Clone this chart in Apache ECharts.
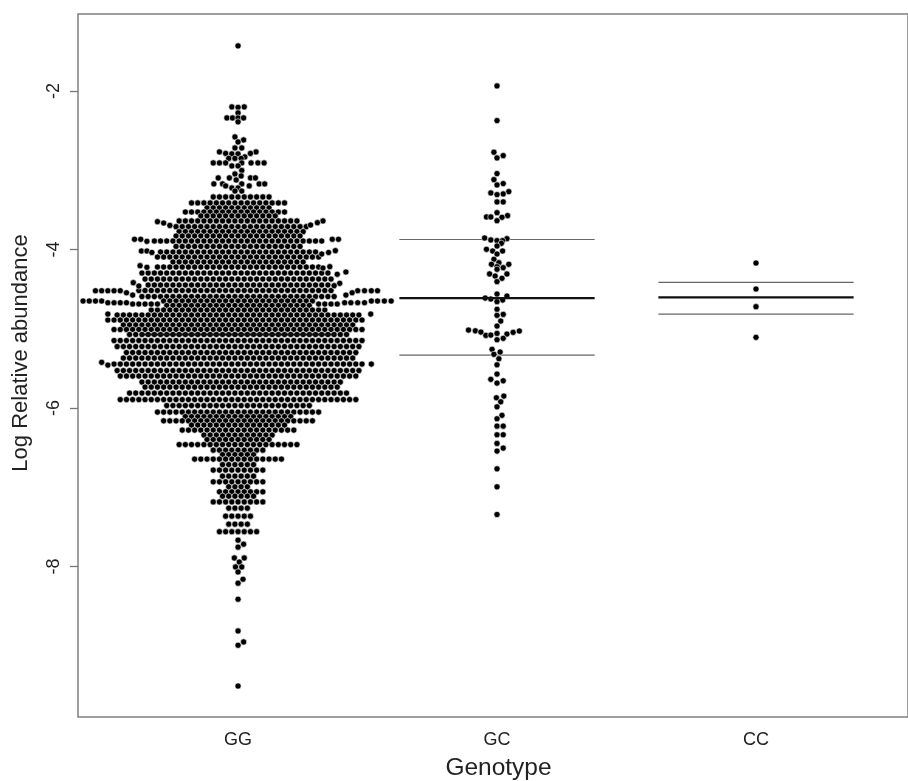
<!DOCTYPE html>
<html><head><meta charset="utf-8">
<script src="https://cdn.jsdelivr.net/npm/echarts@6/dist/echarts.min.js"></script>
<style>html,body{margin:0;padding:0;background:#fff}#c{width:908px;height:781px}</style>
</head><body><div id="c"></div>
<script>
const genotypes = ['GG','GC','CC'];
const yTicks = [-8,-6,-4,-2];
// GG dense swarm: row value, and how many columns the row spans on each side of centre
const ggRowValues = [-3.338,-3.414,-3.477,-3.528,-3.578,-3.641,-3.713,-3.776,-3.831,-3.894,-3.963,-4.033,-4.096,-4.159,-4.222,-4.298,-4.374,-4.449,-4.519,-4.595,-4.651,-4.708,-4.765,-4.828,-4.891,-4.954,-5.011,-5.074,-5.150,-5.226,-5.302,-5.371,-5.447,-5.529,-5.598,-5.674,-5.737,-5.813,-5.895,-5.971,-6.053,-6.110,-6.163,-6.217,-6.280,-6.343,-6.400,-6.463,-6.533,-6.590,-6.646,-6.716,-6.785,-6.861,-6.933,-6.996,-7.059,-7.114,-7.186,-7.265,-7.366,-7.467,-7.562];
const ggRowLeft  = [-4,-8,-5,-9,-6,-10,-10,-10,-10,-14,-10,-13,-13,-11,-13,-16,-15,-15,-16,-16,-12,-12,-14,-20,-21,-19,-20,-18,-20,-20,-18,-19,-20,-20,-19,-16,-15,-18,-19,-12,-13,-9,-12,-8,-9,-6,-5,-10,-4,-3,-7,-3,-4,-3,-4,-2,-3,-3,-4,-2,-2,-2,-3];
const ggRowRight = [ 5, 8, 5, 8, 6, 10, 11, 11, 10, 14, 10, 13, 13, 11, 13, 15, 15, 15, 15, 16, 12, 12, 14, 20, 20, 19, 20, 18, 20, 20, 19, 19, 20, 20, 19, 17, 16, 18, 19, 12, 13, 9, 12, 8, 9, 6, 5, 10, 4, 3, 7, 3, 4, 3, 4, 2, 4, 3, 4, 2, 2, 2, 3];
// GG isolated points and wing tips: value, with the columns it occupies
const ggLooseValues = [-1.432,-2.202,-2.208,-2.278,-2.341,-2.391,-2.581,-2.619,-2.644,-2.72,-2.77,-2.789,-2.795,-2.833,-2.852,-2.909,-2.947,-3.004,-3.048,-3.073,-3.098,-3.124,-3.174,-3.199,-3.225,-3.263,
  -3.65,-3.667,-3.698,-3.641,-3.663,-3.692,-3.872,-3.898,-4.02,-4.016,-4.039,-4.058,-4.206,-4.226,-4.218,-4.235,-4.285,-4.314,-4.42,-4.462,-4.428,-4.458,-4.522,-4.547,-4.576,-4.651,-4.673,-4.689,-4.816,-5.425,-5.46,-5.447,
  -7.669,-7.72,-7.757,-7.893,-7.944,-8.007,-8.07,-8.162,-8.212,-8.414,-8.814,-8.953,-8.995,-9.509];
const ggLooseCols = [[0],[-1,1],[0],[0],[-1.8,-0.9,0,0.9],[0],[-0.5],[0.9],[0],[-0.5,0.6],[-3,2.9],[-2,2],[-1,0],[1.1],[-1.5,-0.5,0.5],[-4,-3,-2,0.6,2.1,3.2,4.2],[-1,0],[0.6],[-0.5],[0.5],[-3.2,-1.4,2,2.8],[-0.3],[-3.9,-2.5,0.6,3.4,4.3],[-2,1.8],[-1,0],[-0.5,0.6],
  [-13],[-12],[-11],[13.7],[12.8],[11.7],[-16.7,-15.7,15.2,16.2],[-14.7],[-15.6,-14.7],[15.7],[-13.9,14.6],[13.5],[-15.8],[-14.7],[14.8],[13.7],[17.4],[16],[-16.9],[-16],[16.4],[15.5],[-23,-22,-21,-20,-19,19.3,20.4,21.5,22.5],[-18,18.4],[-17,17.4],[-25,-24,-23,-22,21.5,22.5,23.6,24.7],[-21,-20,-19,-18,17.2,18.2,19.3,20.4],[-17,-16,-15,-14,-13,13,14,15,16],[-21,21.4],[-22],[-21],[21.5],
  [0],[0.9],[0],[-0.6,1],[0.2],[-0.4,0.6],[0],[0.8],[0],[0],[0],[0.9],[0],[0]];
const gcValues = [-1.937,-2.375,-2.774,-2.817,-2.846,-3.044,-3.12,-3.17,-3.187,-3.271,-3.288,-3.30,-3.309,-3.401,-3.401,-3.537,-3.591,-3.591,-3.574,-3.595,-3.638,-3.856,-3.865,-3.881,-3.89,-3.89,-3.923,-3.957,-3.999,-4.02,-4.02,-4.058,-4.125,-4.168,-4.188,-4.188,-4.218,-4.231,-4.251,-4.31,-4.31,-4.336,-4.365,-4.407,
  -4.563,-4.588,-4.614,-4.626,-4.639,-4.66,-4.756,-4.82,-4.832,-4.904,-4.967,-5.018,-5.027,-5.043,-5.085,-5.081,-5.06,-5.068,-5.047,-5.03,-5.122,-5.14,-5.261,-5.295,-5.324,-5.38,-5.456,-5.573,-5.64,-5.658,-5.687,-5.851,-5.872,-5.923,-5.986,-6.094,-6.137,-6.23,-6.23,-6.339,-6.339,-6.448,-6.507,-6.545,-6.769,-6.996,-7.345];
const gcCols = [0,0,-0.5,1,0,0,-0.5,1,0,1.9,-1,1,0,0,1,0,-1.7,-1,1.7,0.8,0,-2,1.6,-1,0,0.9,0.7,0,-1.7,-0.7,0.9,0,-0.5,0.3,-0.9,1.9,0,1,0,1.6,-1.2,-0.3,0.8,0,
  0,1.6,-1.9,-1,0.9,0,0,1,0,0.6,0,-4.6,-3.5,-2.6,-1.8,-1,0,1.6,2.6,3.6,1,0,-0.8,0.5,-0.5,0.3,0,0,-1,1,0,1.1,-0.1,0.6,0,0.8,0,0,1,0,1,0,1,0,0,0,0];
const ccValues = [-4.172,-4.5,-4.723,-5.11];
const ccCols = [0,0,0,0];
// summary lines: centre and spread per genotype
const centreValues = [-5.074,-4.614,-4.605];
const upperValues = [null,-3.875,-4.415];
const lowerValues = [null,-5.333,-4.816];

const PITCH = 6.2/259, HALF = 0.377;
const gg = [];
ggRowValues.forEach((v,i)=>{
  const shift = i%2 ? 0.5 : 0;
  for(let k=ggRowLeft[i];k<=ggRowRight[i];k++){
    const c=k+shift;
    if(c<=ggRowRight[i]+0.01) gg.push([1+c*PITCH,v]);
  }
});
ggLooseValues.forEach((v,i)=>ggLooseCols[i].forEach(c=>gg.push([1+c*PITCH,v])));
const gc = gcValues.map((v,i)=>[2+gcCols[i]*PITCH,v]);
const cc = ccValues.map((v,i)=>[3+ccCols[i]*PITCH,v]);

const seg=(x,v,w,col)=>({type:'line',data:[[x-HALF,v],[x+HALF,v]],symbol:'none',silent:true,
  lineStyle:{color:col,width:w},z:w>1.5?5:2});
const lines=[];
centreValues.forEach((v,i)=>lines.push(seg(i+1,v,2.2,'#111')));
upperValues.forEach((v,i)=>{if(v!==null)lines.push(seg(i+1,v,1.2,'#666'))});
lowerValues.forEach((v,i)=>{if(v!==null)lines.push(seg(i+1,v,1.2,'#666'))});
const dots=d=>({type:'scatter',data:d,symbol:'circle',symbolSize:6.2,progressive:0,large:false,silent:true,
  itemStyle:{color:'#000',borderColor:'#fff',borderWidth:0.6,opacity:1},z:3});

const chart=echarts.init(document.getElementById('c'),null,{renderer:'canvas'});
chart.setOption({
  animation:false,
  textStyle:{fontFamily:'Liberation Sans'},
  grid:{left:78,top:14,right:0,bottom:64,outerBoundsMode:'none',show:true,borderColor:'#808080',borderWidth:1.5,backgroundColor:'#fff'},
  xAxis:{type:'value',min:0.382,max:3.587,
    axisLine:{show:false},axisTick:{show:false},splitLine:{show:false},
    axisLabel:{customValues:[1,2,3],formatter:v=>genotypes[Math.round(v)-1],fontSize:18,color:'#222',margin:14},
    name:'Genotype',nameLocation:'middle',nameGap:39,nameTextStyle:{fontSize:24.5,color:'#222',padding:[0,0,0,11]}},
  yAxis:{type:'value',min:-9.9,max:-1.03,
    axisLine:{show:false},splitLine:{show:false},
    axisTick:{show:true,length:8,customValues:yTicks,lineStyle:{color:'#777',width:1.3}},
    axisLabel:{customValues:yTicks,rotate:90,fontSize:18,color:'#222',margin:15,formatter:v=>String(v)},
    name:'Log Relative abundance',nameLocation:'middle',nameGap:46,
    nameTextStyle:{fontSize:22,color:'#222',padding:[0,0,0,25]}},
  series:[...lines,dots(gg),dots(gc),dots(cc)]
});
</script></body></html>
